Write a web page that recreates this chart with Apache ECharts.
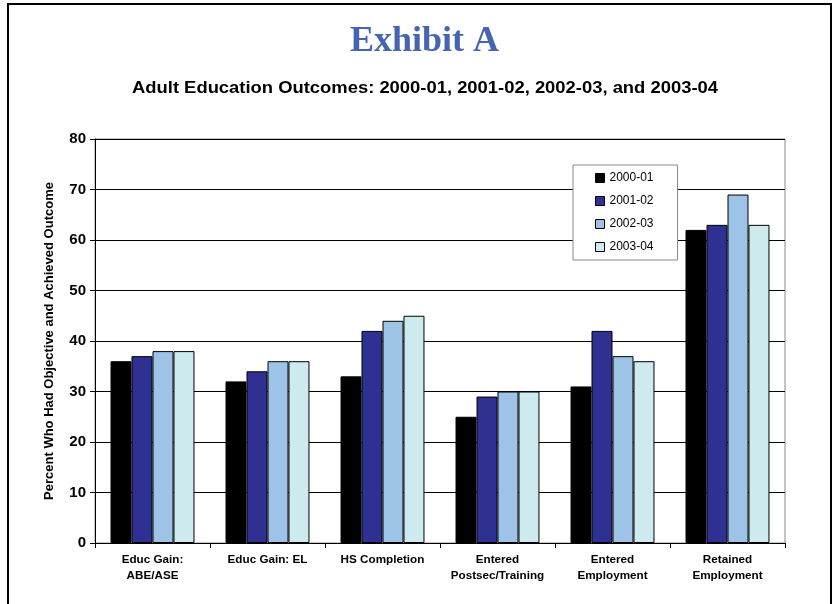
<!DOCTYPE html>
<html>
<head>
<meta charset="utf-8">
<script src="https://cdn.jsdelivr.net/npm/echarts@6/dist/echarts.min.js"></script>
<style>html,body{margin:0;padding:0;background:#fff}#c{width:835px;height:604px}</style>
</head>
<body>
<div id="c"></div>
<script>
const categories = ['Educ Gain:\nABE/ASE', 'Educ Gain: EL', 'HS Completion', 'Entered\nPostsec/Training', 'Entered\nEmployment', 'Retained\nEmployment'];
const seriesNames = ['2000-01', '2001-02', '2002-03', '2003-04'];
const v2000 = [36, 32, 33, 25, 31, 62];
const v2001 = [37, 34, 42, 29, 42, 63];
const v2002 = [38, 36, 44, 30, 37, 69];
const v2003 = [38, 36, 45, 30, 36, 63];
const yTicks = [0, 10, 20, 30, 40, 50, 60, 70, 80];
const mainTitle = 'Exhibit A';
const subTitle = 'Adult Education Outcomes: 2000-01, 2001-02, 2002-03, and 2003-04';
const yName = 'Percent Who Had Objective and Achieved Outcome';
const colors = ['#000000', '#2E3192', '#9DC3E6', '#CDEBEF'];

const values = [v2000, v2001, v2002, v2003];
const chart = echarts.init(document.getElementById('c'), null, {renderer: 'canvas'});
const option = {
  animation: false,
  title: [
    {text: mainTitle, left: 345, top: 19,
     textStyle: {fontFamily: 'Liberation Serif', fontWeight: 'bold', fontSize: 36, color: '#4565B0'}}
  ],
  graphic: [
    {type: 'rect', shape: {x: 8, y: 4, width: 823, height: 610}, style: {fill: 'none', stroke: '#000', lineWidth: 2}, silent: true},
    {type: 'text', x: 132, y: 89, scaleX: 1.15, scaleY: 1, originX: 0, originY: 0,
     style: {text: subTitle, font: 'bold 16px "Liberation Sans"', fill: '#000', textAlign: 'left', textVerticalAlign: 'middle'}, silent: true}
  ],
  legend: {
    orient: 'vertical', left: 573, top: 165, icon: 'rect',
    backgroundColor: '#fff', borderColor: '#888', borderWidth: 1,
    padding: [7, 24, 7, 22], itemGap: 11, itemWidth: 9, itemHeight: 9,
    textStyle: {fontFamily: 'Liberation Sans', fontSize: 12, color: '#000'},
    data: seriesNames.map(n => ({name: n, itemStyle: {borderColor: '#000', borderWidth: 1}}))
  },
  grid: {left: 95, right: 50, top: 139, bottom: 61, show: true, borderColor: '#888', borderWidth: 1, containLabel: false},
  xAxis: {
    type: 'category', data: categories,
    axisLine: {lineStyle: {color: '#000', width: 1}},
    axisTick: {show: true, length: 5, lineStyle: {color: '#000'}},
    axisLabel: {fontFamily: 'Liberation Sans', fontWeight: 'bold', fontSize: 11.7, color: '#000', lineHeight: 16, margin: 9, interval: 0}
  },
  yAxis: {
    type: 'value', min: 0, max: 80, interval: 10,
    name: yName, nameLocation: 'middle', nameGap: 39,
    nameTextStyle: {fontFamily: 'Liberation Sans', fontWeight: 'bold', fontSize: 13, color: '#000'},
    axisLine: {show: true, lineStyle: {color: '#000'}},
    axisTick: {show: true, length: 5, lineStyle: {color: '#000'}},
    splitLine: {lineStyle: {color: '#000', width: 1}},
    axisLabel: {fontFamily: 'Liberation Sans', fontWeight: 'bold', fontSize: 15, color: '#000', margin: 9,
      formatter: v => yTicks.includes(v) ? String(v) : ''}
  },
  series: seriesNames.map((n, i) => ({
    name: n, type: 'bar', data: values[i],
    barGap: '0%', barCategoryGap: '27%',
    itemStyle: {color: colors[i], borderColor: '#000', borderWidth: 1}
  }))
};
chart.setOption(option);
</script>
</body>
</html>
